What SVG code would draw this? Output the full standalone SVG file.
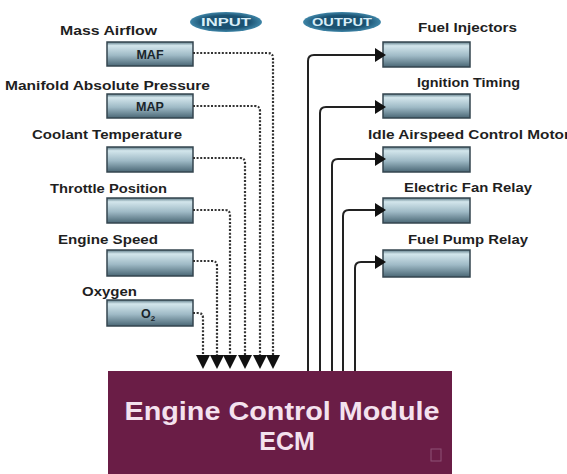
<svg xmlns="http://www.w3.org/2000/svg" width="567" height="474" viewBox="0 0 567 474">
  <defs>
    <linearGradient id="boxg" x1="0" y1="0" x2="0" y2="1">
      <stop offset="0" stop-color="#5d7b88"/>
      <stop offset="0.15" stop-color="#d3e6ec"/>
      <stop offset="0.55" stop-color="#9fbac6"/>
      <stop offset="1" stop-color="#4a6775"/>
    </linearGradient>
    <radialGradient id="ovalg" cx="0.5" cy="0.5" r="0.5">
      <stop offset="0.65" stop-color="#1b5272"/>
      <stop offset="1" stop-color="#3f86a8"/>
    </radialGradient>
  </defs>
  <style>
    .lbl { font-family: "Liberation Sans", Arial, sans-serif; font-weight: bold; font-size: 12.5px; fill: #1f1f1f; }
    .box { fill: url(#boxg); stroke: #34454f; stroke-width: 1.5; }
    .btxt { font-family: "Liberation Sans", Arial, sans-serif; font-weight: bold; font-size: 12.5px; fill: #1a252b; text-anchor: middle; }
    .oval { fill: url(#ovalg); }
    .otxt { font-family: "Liberation Sans", Arial, sans-serif; font-weight: bold; font-size: 11px; fill: #d8eef8; text-anchor: middle; }
    .in { fill: none; stroke: #333; stroke-width: 2.2; stroke-dasharray: 2 1.6; }
    .out { fill: none; stroke: #222; stroke-width: 2; }
    .ah { fill: #111; }
    .ecmtxt { font-family: "Liberation Sans", Arial, sans-serif; font-weight: bold; font-size: 25px; fill: #f4e2ee; text-anchor: middle; }
  </style>
  <rect width="567" height="474" fill="#ffffff"/>

  <g id="input-tag">
    <ellipse class="oval" cx="226" cy="22" rx="36" ry="10"/>
    <text class="otxt" x="226" y="26" textLength="50" lengthAdjust="spacingAndGlyphs">INPUT</text>
  </g>
  <g id="output-tag">
    <ellipse class="oval" cx="342" cy="22" rx="39" ry="10"/>
    <text class="otxt" x="342" y="26" textLength="60" lengthAdjust="spacingAndGlyphs">OUTPUT</text>
  </g>

  <g id="maf">
    <text class="lbl" x="60" y="35" textLength="97" lengthAdjust="spacingAndGlyphs">Mass Airflow</text>
    <rect class="box" x="107" y="42" width="86" height="24"/>
    <text class="btxt" x="150" y="58.5">MAF</text>
  </g>
  <g id="map">
    <text class="lbl" x="5" y="90" textLength="205" lengthAdjust="spacingAndGlyphs">Manifold Absolute Pressure</text>
    <rect class="box" x="107" y="94" width="86" height="24"/>
    <text class="btxt" x="150" y="110.5">MAP</text>
  </g>
  <g id="coolant">
    <text class="lbl" x="32" y="139" textLength="150" lengthAdjust="spacingAndGlyphs">Coolant Temperature</text>
    <rect class="box" x="107" y="147" width="86" height="25"/>
  </g>
  <g id="throttle">
    <text class="lbl" x="50" y="193" textLength="117" lengthAdjust="spacingAndGlyphs">Throttle Position</text>
    <rect class="box" x="107" y="198" width="86" height="25"/>
  </g>
  <g id="engine-speed">
    <text class="lbl" x="58" y="244" textLength="100" lengthAdjust="spacingAndGlyphs">Engine Speed</text>
    <rect class="box" x="107" y="250" width="86" height="26"/>
  </g>
  <g id="oxygen">
    <text class="lbl" x="82" y="296" textLength="55" lengthAdjust="spacingAndGlyphs">Oxygen</text>
    <rect class="box" x="107" y="300" width="86" height="26"/>
    <text class="btxt" x="148" y="317.5">O<tspan font-size="8" dy="3">2</tspan></text>
  </g>

  <g id="fuel-injectors">
    <text class="lbl" x="418" y="32" textLength="99" lengthAdjust="spacingAndGlyphs">Fuel Injectors</text>
    <rect class="box" x="383" y="42" width="87" height="25"/>
  </g>
  <g id="ignition-timing">
    <text class="lbl" x="417" y="87" textLength="103" lengthAdjust="spacingAndGlyphs">Ignition Timing</text>
    <rect class="box" x="383" y="94" width="87" height="24"/>
  </g>
  <g id="idle-airspeed">
    <text class="lbl" x="368" y="139" textLength="202" lengthAdjust="spacingAndGlyphs">Idle Airspeed Control Motor</text>
    <rect class="box" x="383" y="147" width="87" height="25"/>
  </g>
  <g id="electric-fan">
    <text class="lbl" x="404" y="192" textLength="128" lengthAdjust="spacingAndGlyphs">Electric Fan Relay</text>
    <rect class="box" x="383" y="198" width="87" height="25"/>
  </g>
  <g id="fuel-pump">
    <text class="lbl" x="408" y="244" textLength="120" lengthAdjust="spacingAndGlyphs">Fuel Pump Relay</text>
    <rect class="box" x="383" y="250" width="87" height="27"/>
  </g>

  <g id="ecm">
    <rect x="108" y="371" width="344" height="110" fill="#6a1d46"/>
    <text class="ecmtxt" x="282" y="420" textLength="315" lengthAdjust="spacingAndGlyphs">Engine Control Module</text>
    <text class="ecmtxt" x="287" y="450">ECM</text>
    <rect x="431" y="449" width="10" height="12" fill="none" stroke="#8e5276" stroke-width="1"/>
  </g>

  <g id="connectors">
    <path class="in" d="M193,53 H268 Q273,53 273,58 V356"/>
    <path class="in" d="M193,106 H255 Q260,106 260,111 V356"/>
    <path class="in" d="M193,158 H240 Q245,158 245,163 V356"/>
    <path class="in" d="M193,210 H225 Q230,210 230,215 V356"/>
    <path class="in" d="M193,261 H212 Q217,261 217,266 V356"/>
    <path class="in" d="M193,313 H198 Q203,313 203,318 V356"/>
    <polygon class="ah" points="196,355 210,355 203,369"/>
    <polygon class="ah" points="210,355 224,355 217,369"/>
    <polygon class="ah" points="223,355 237,355 230,369"/>
    <polygon class="ah" points="238,355 252,355 245,369"/>
    <polygon class="ah" points="253,355 267,355 260,369"/>
    <polygon class="ah" points="266,355 280,355 273,369"/>

    <path class="out" d="M308,371 V61 Q308,55 314,55 H377"/>
    <path class="out" d="M320,371 V113 Q320,107 326,107 H377"/>
    <path class="out" d="M332,371 V165 Q332,159 338,159 H377"/>
    <path class="out" d="M343,371 V216 Q343,210 349,210 H377"/>
    <path class="out" d="M355,371 V268 Q355,262 361,262 H377"/>
    <polygon class="ah" points="375,48 386,55 375,62"/>
    <polygon class="ah" points="375,100 386,107 375,114"/>
    <polygon class="ah" points="375,152 386,159 375,166"/>
    <polygon class="ah" points="375,203 386,210 375,217"/>
    <polygon class="ah" points="375,255 386,262 375,269"/>
  </g>
</svg>
